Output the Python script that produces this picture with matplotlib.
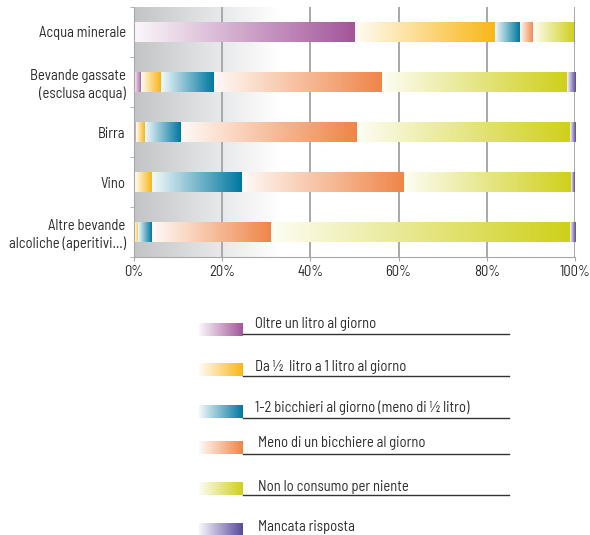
import numpy as np
import matplotlib
matplotlib.use("Agg")
from matplotlib import pyplot
from matplotlib.colors import LinearSegmentedColormap

pyplot.rcParams['font.family'] = ['Barlow Semi Condensed', 'Roboto', 'DejaVu Sans']

# bevande, dall'alto in basso
categories = ["Acqua minerale", "Bevande gassate\n(esclusa acqua)", "Birra", "Vino",
              "Altre bevande\nalcoliche (aperitivi...)"]
series_names = ["Oltre un litro al giorno", "Da \u00bd  litro a 1 litro al giorno",
                "1-2 bicchieri al giorno (meno di \u00bd litro)", "Meno di un bicchiere al giorno",
                "Non lo consumo per niente", "Mancata risposta"]
oltre_litro = [50.1, 1.7, 0.5, 0.3, 0.3]
mezzo_litro = [31.8, 4.4, 2.0, 3.7, 0.7]
bicchieri = [5.6, 12.0, 8.1, 20.4, 3.0]
meno_bicchiere = [3.0, 38.1, 39.9, 36.8, 27.0]
non_consumo = [9.3, 41.9, 48.3, 38.0, 67.8]
mancata = [0.2, 1.9, 1.2, 0.8, 1.2]
xticks = [0, 20, 40, 60, 80, 100]
xtick_labels = ["0%", "20%", "40%", "60%", "80%", "100%"]

series = [oltre_litro, mezzo_litro, bicchieri, meno_bicchiere, non_consumo, mancata]
colors = ["#a3569a", "#f9b616", "#00789f", "#ef8548", "#cfd01a", "#5a4a9c"]
txtcol = "#2b2b2b"

grad = np.linspace(0, 1, 256).reshape(1, -1)


def cmap_for(c):
    return LinearSegmentedColormap.from_list("g", [(1, 1, 1), c])


fig = pyplot.figure(figsize=(5.9, 5.35), dpi=100)
W, H = 590, 535
ax = fig.add_axes([134 / W, 1 - 257 / H, (575 - 134) / W, 250 / H])

# sfondo grigio sfumato
bg = LinearSegmentedColormap.from_list("bg", ["#c3c4c6", "#e2e3e5", "#ffffff"])
ax.imshow(grad, cmap=bg, extent=[0, 33, 4.5, -0.5], aspect='auto', zorder=0,
          interpolation='bilinear')

for xv in xticks[1:]:
    ax.axvline(xv, color="#a8a8a8", lw=1.4, zorder=1)

y = np.arange(len(categories))
left = np.zeros(len(categories))
for vals, col in zip(series, colors):
    bars = ax.barh(y, vals, left=left, height=0.42, color='none', edgecolor='none', zorder=2)
    for b in bars:
        if b.get_width() <= 0:
            continue
        x0, y0 = b.get_x(), b.get_y()
        im = ax.imshow(grad, cmap=cmap_for(col), vmin=-0.05, vmax=1,
                       extent=[x0, x0 + b.get_width(), y0 + b.get_height(), y0],
                       aspect='auto', zorder=2, interpolation='bilinear')
        im.set_clip_path(b)
    left += np.array(vals)

ax.set_xlim(0, 100)
ax.set_ylim(4.5, -0.5)

for s in ["top", "right"]:
    ax.spines[s].set_visible(False)
ax.spines["left"].set_color("#a8a8a8")
ax.spines["bottom"].set_color("#a8a8a8")
ax.set_xticks(xticks)
ax.set_xticklabels(xtick_labels, fontsize=10.5, color=txtcol)
ax.tick_params(axis='x', length=3, color="#a8a8a8", pad=3)
ax.set_yticks(y)
ax.set_yticklabels(categories, fontsize=10.5, color=txtcol, linespacing=1.3)
ax.tick_params(axis='y', which='major', length=0, pad=6)
ax.set_yticks(np.arange(-0.5, 5, 1), minor=True)
ax.tick_params(axis='y', which='minor', length=3, color="#a8a8a8")

# legenda
lax = fig.add_axes([0, 0, 1, (H - 305) / H])
lax.axis('off')
sw_y = [329.5, 370, 411.5, 448, 489, 529.5]
txt_y = [324, 367, 408, 443, 487, 527]
txt_x = [255, 255, 255, 258, 258, 258]
line_y = [334, 376, 418, 454, 495]
for i, (name, col) in enumerate(zip(series_names, colors)):
    yy = sw_y[i]
    lax.imshow(grad, cmap=cmap_for(col), vmin=-0.05, vmax=1,
               extent=[199, 243, yy + 6.5, yy - 6.5], aspect='auto', interpolation='bilinear')
    lax.text(txt_x[i], txt_y[i], name, fontsize=10.5, color=txtcol, va='center', ha='left')
    if i < len(line_y):
        lax.plot([243, 509], [line_y[i], line_y[i]], color="#333333", lw=1)
lax.set_xlim(0, W)
lax.set_ylim(H, 305)

fig.savefig("out.png", dpi=100)
